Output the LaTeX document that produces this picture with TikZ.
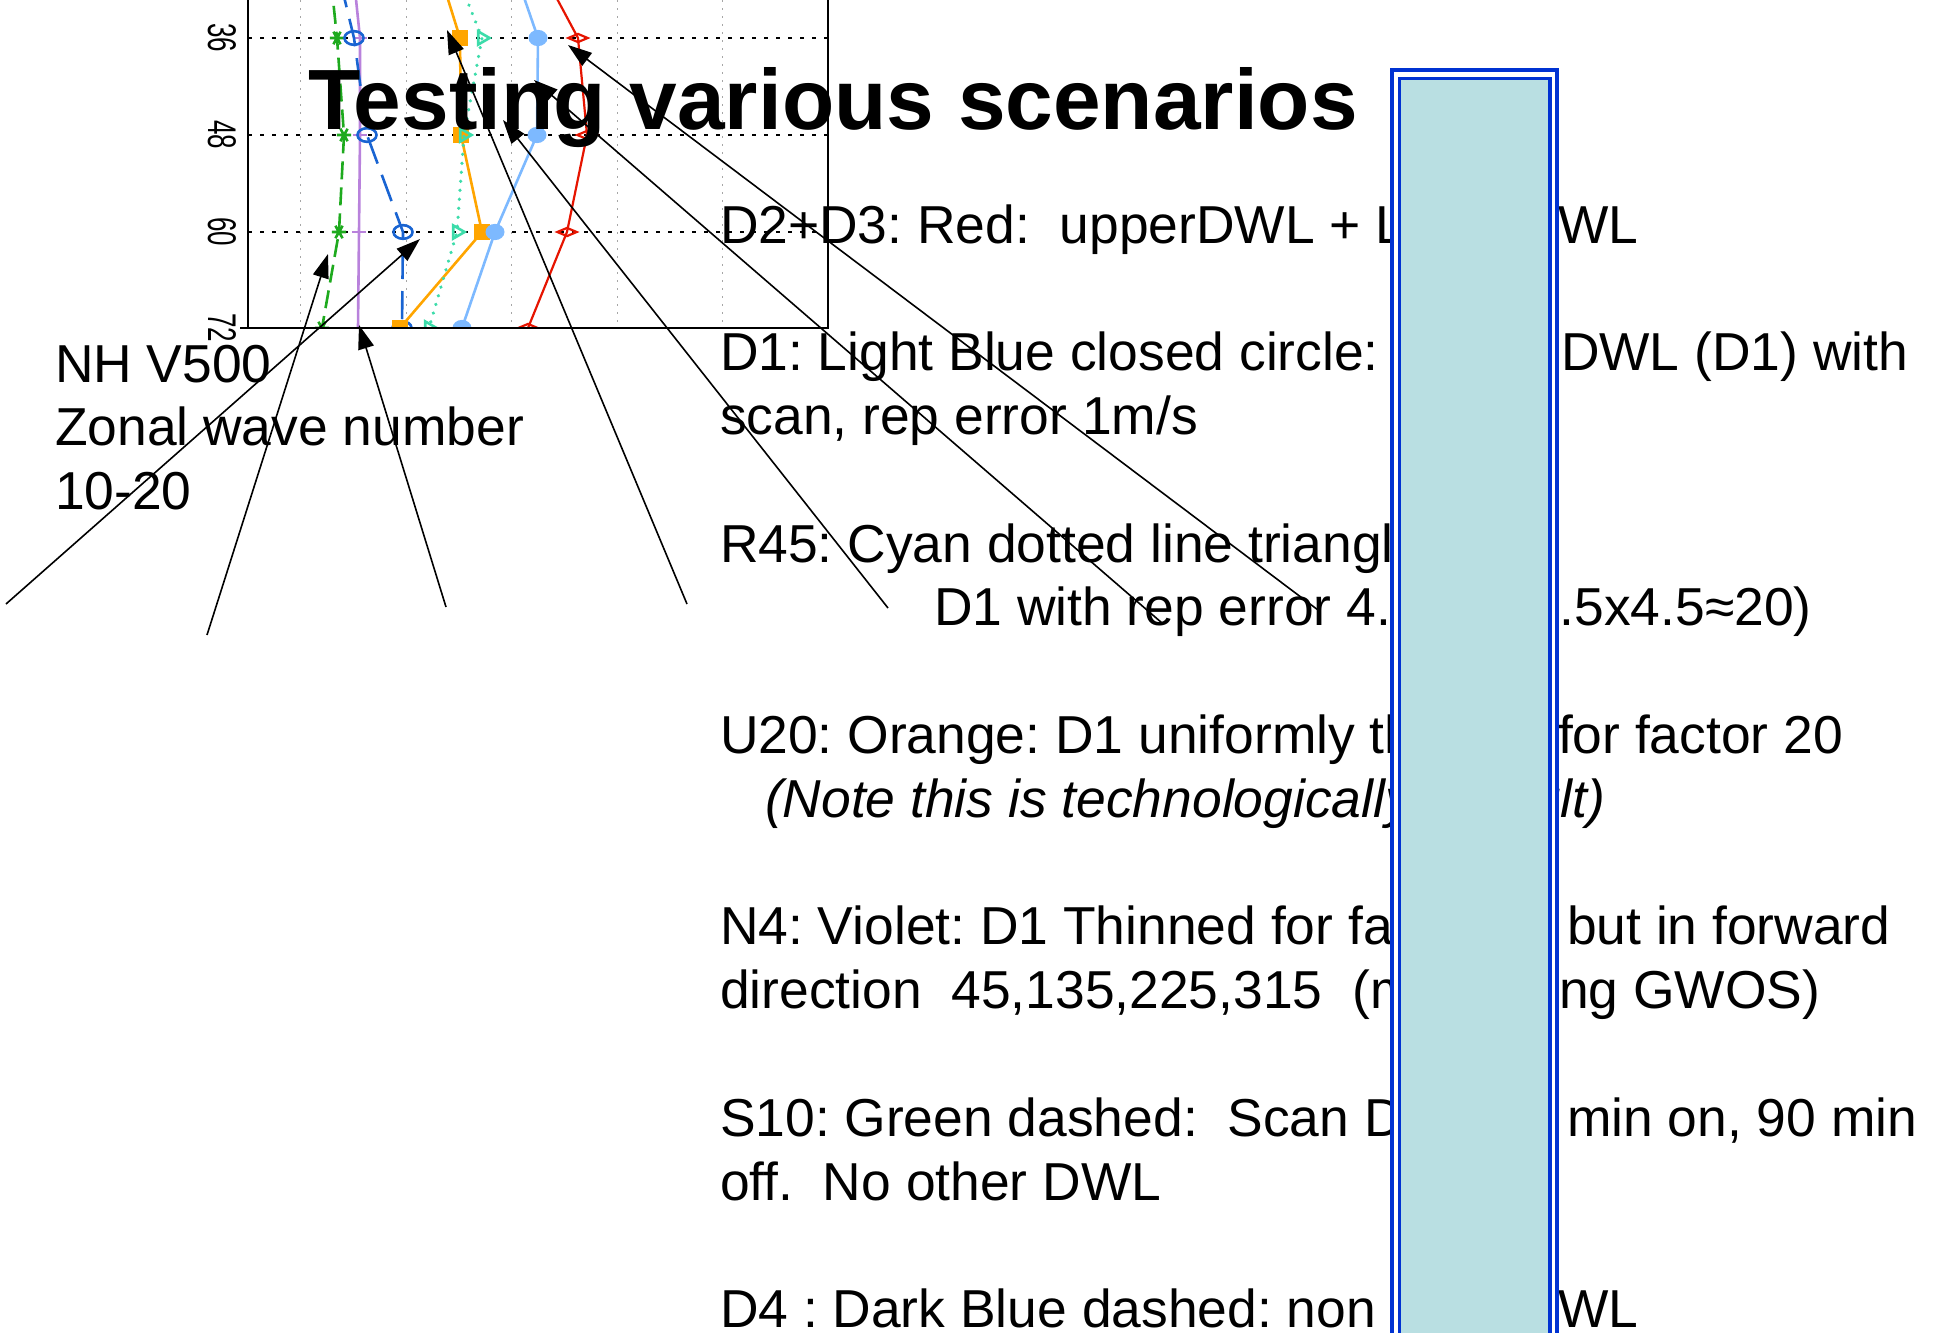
\documentclass[tikz,border=0pt]{standalone}
\usepackage{fontspec}
\setmainfont{Liberation Sans}
\newfontfamily\axisfont[FakeStretch=0.65]{Liberation Sans}
\definecolor{s10green}{RGB}{30,170,30}
\definecolor{n4violet}{RGB}{185,130,220}
\definecolor{d4blue}{RGB}{25,100,210}
\definecolor{u20orange}{RGB}{255,165,0}
\definecolor{r45cyan}{RGB}{60,220,170}
\definecolor{d1blue}{RGB}{125,185,255}
\definecolor{d23red}{RGB}{230,20,0}
\definecolor{boxblue}{RGB}{0,50,210}
\definecolor{boxfill}{RGB}{185,223,226}
\usetikzlibrary{arrows.meta,plotmarks,positioning}

\begin{document}
\frenchspacing
\begin{tikzpicture}[x=0.5pt,y=-0.5pt,
    every node/.style={inner sep=0pt,outer sep=0pt},
    legendline/.style={anchor=base west,font=\fontsize{26.7}{32}\selectfont},
    titletext/.style={anchor=base west,font=\fontsize{42.8}{51}\selectfont\bfseries},
    levellabel/.style={rotate=-90,font=\axisfont\fontsize{20}{20}\selectfont},
    axisline/.style={line width=1pt},
    hgrid/.style={line width=0.6pt,dash pattern=on 2pt off 4pt},
    vgrid/.style={gray!70,line width=0.5pt,dash pattern=on 1pt off 3pt},
    scencurve/.style={line width=1.3pt,mark size=3.6pt},
    pointer/.style={line width=0.8pt,-{Triangle[length=12pt,width=8pt]}}
    ]
    \useasboundingbox (0,0) rectangle (1933,1333);

    % the grid of the plot
    \foreach \x in {300,406,511,617,722}
    \draw[vgrid] (\x,0) -- (\x,328);
    \foreach \y in {38,135,232}
    \draw[hgrid] (248,\y) -- (828,\y);

    % the scenario curves
    \begin{scope}
    \clip (248,-20) rectangle (828,328);
    \draw[scencurve,s10green,dash pattern=on 9pt off 4pt,mark=asterisk,mark options={solid,rotate=90,mark size=3.6pt}]
      plot coordinates {(331,-20) (337,38) (344,135) (339,232) (322,328)};
    \draw[scencurve,n4violet,mark=+,mark options={mark size=3.6pt}]
      plot coordinates {(354,-20) (360,38) (360,135) (359,232) (358,328)};
    \draw[scencurve,d4blue,dash pattern=on 14pt off 6pt,mark=o,mark options={solid,xscale=1.4,mark size=3.4pt}]
      plot coordinates {(340,-20) (354,38) (367,135) (403,232) (402,328)};
    \draw[scencurve,u20orange,mark=square*,mark options={mark size=3.3pt}]
      plot coordinates {(442,-20) (460,38) (461,135) (482,232) (400,328)};
    \draw[scencurve,r45cyan,line width=1.8pt,line cap=round,dash pattern=on 0.01pt off 4.5pt,mark=triangle,mark options={solid,line width=1.3pt,rotate=-90,mark size=3.8pt}]
      plot coordinates {(459,-20) (482,38) (464,135) (457,232) (429,328)};
    \draw[scencurve,d1blue,mark=*,mark options={xscale=1.2,mark size=3.4pt}]
      plot coordinates {(518,-20) (538,38) (537,135) (495,232) (462,328)};
    \draw[scencurve,d23red,line width=1.1pt,mark=diamond,mark options={xscale=1.9,yscale=0.6,mark size=3.4pt}]
      plot coordinates {(547,-20) (578,38) (587,135) (567,232) (528,328)};
    \end{scope}

    % the frame and the levels
    \draw[axisline] (248,-5) -- (248,328);
    \draw[axisline] (240,328) -- (828,328) -- (828,-5);
    \foreach \y/\lev in {38/36,135/48,232/60,328/72}
    \node[levellabel] (lev\lev) at (222,\y) {\lev};

    % the title
    \node[titletext] (title) at (308,129) {Testing various scenarios};

    % the case of the plot
    \node[legendline] (case1) at (55,382) {NH V500};
    \node[legendline] (case2) at (55,445.8) {Zonal wave number};
    \node[legendline] (case3) at (55,509.6) {10-20};

    % the scenarios
    \node[legendline] (d23a) at (720,243) {D2+D3: Red:\ \ upperDWL + L};
    \node[legendline] (d1a) at (720,370.6) {D1: Light Blue closed circle:};
    \node[legendline] (d1b) at (720,434.4) {scan, rep error 1m/s};
    \node[legendline] (r45a) at (720,562) {R45: Cyan dotted line triangle};
    \node[legendline] (r45b) at (934,625.8) {D1 with rep error 4.};
    \node[legendline] (u20a) at (720,753.4) {U20: Orange: D1 uniformly th};
    \node[legendline] (u20b) at (765,817.2) {\itshape (Note this is technologically};
    \node[legendline] (n4a) at (720,944.8) {N4: Violet: D1 Thinned for fac};
    \node[legendline] (n4b) at (720,1008.6) {direction\ \ 45,135,225,315\ \ (m};
    \node[legendline] (s10a) at (720,1136.2) {S10: Green dashed:\ \ Scan D};
    \node[legendline] (s10b) at (720,1200) {off.\ \ No other DWL};
    \node[legendline] (d4a) at (720,1327) {D4 : Dark Blue dashed: non s};

    % the ends of the lines right of the box
    \node[legendline] (d23r) at (1558,243) {WL};
    \node[legendline] (d1r) at (1561,370.6) {DWL (D1) with};
    \node[legendline] (r45r) at (1530,625.8) {4.5x4.5≈20)};
    \node[legendline] (u20r) at (1558,753.4) {for factor 20};
    \node[legendline] (u20s) at (1531,817.2) {\itshape ult)};
    \node[legendline] (n4r) at (1567,944.8) {but in forward};
    \node[legendline] (n4s) at (1559,1008.6) {ng GWOS)};
    \node[legendline] (s10r) at (1567,1136.2) {min on, 90 min};
    \node[legendline] (d4r) at (1558,1327) {WL};

    % the pointers from the text to the curves
    \coordinate (d4-tail) at (6,604);     \coordinate (d4-tip) at (420,239);
    \coordinate (s10-tail) at (207,635);  \coordinate (s10-tip) at (328,254);
    \coordinate (n4-tail) at (446,607);   \coordinate (n4-tip) at (359,325);
    \coordinate (u20-tail) at (687,604);  \coordinate (u20-tip) at (447,30);
    \coordinate (r45-tail) at (888,608);  \coordinate (r45-tip) at (503,120);
    \coordinate (d1-tail) at (1162,623);  \coordinate (d1-tip) at (534,80);
    \coordinate (d23-tail) at (1318,610); \coordinate (d23-tip) at (568,45);
    \foreach \s in {d4,s10,n4,u20,r45,d1,d23}
    \draw[pointer] (\s-tail) -- (\s-tip);

    % the box laid over the text
    \draw[boxblue,line width=1.8pt,fill=white] (1392,70) rectangle (1557,1345);
    \draw[boxblue,line width=1.8pt,fill=boxfill] (1399.5,78.5) rectangle (1550,1345);
\end{tikzpicture}
\end{document}
